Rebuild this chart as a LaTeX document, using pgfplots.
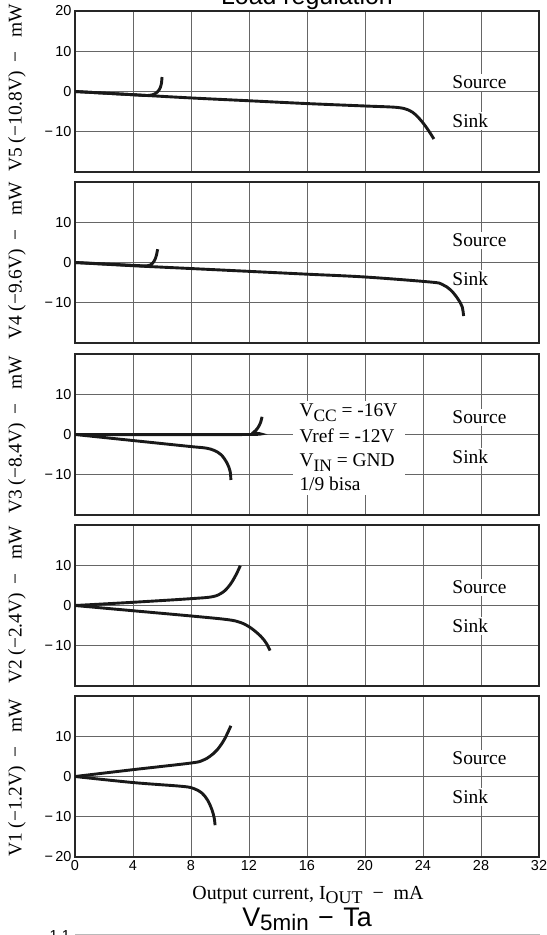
\documentclass[border=0pt]{standalone}
\usepackage{fontspec}
\setmainfont{Liberation Serif}
\newfontfamily\sansf{Liberation Sans}
\usepackage{pgfplots}
\pgfplotsset{compat=1.18}
\definecolor{gridc}{gray}{0.40}
\definecolor{curvec}{gray}{0.1}
\newcommand\lab{\fontsize{19.5}{22}\selectfont}
\newcommand\tk{\sansf\fontsize{14.5}{14.5}\selectfont}
\pgfplotsset{
  panel/.style={
    scale only axis, width=464bp, height=161bp, anchor=north west,
    xmin=0, xmax=32, ymin=-20, ymax=20,
    xtick={0,4,...,32}, ytick={-20,-10,0,10,20},
    grid=major, major grid style={gridc, line width=0.9bp},
    major tick length=0pt,
    axis line style={black!85, line width=1.5bp},
    xticklabels={},
    ticklabel style={font=\tk},
  },
  cv/.style={curvec, line width=2.9bp, smooth, tension=0.55, no marks},
}
\tikzset{
  src/.style={anchor=base west, fill=white, inner xsep=1bp, inner ysep=2bp, font=\fontsize{19.5}{22}\selectfont},
}
\begin{document}
\begin{tikzpicture}
\useasboundingbox (0bp,0bp) rectangle (547bp,-935bp);
% Panel 1: V5
\begin{axis}[panel, at={(75bp,-11bp)}, yticklabels={,−\,10,0,10,20}]
\addplot[cv] coordinates {(0,0)(4,-0.8)(8,-1.6)(12,-2.3)(16,-3.0)(20,-3.6)(22.2,-3.95)(23.0,-4.6)(23.5,-5.8)(24.0,-7.8)(24.4,-9.8)(24.75,-11.8)};
\addplot[cv] coordinates {(0,0)(4,-0.8)(5.0,-1.0)(5.5,-0.6)(5.8,0.4)(5.95,1.8)(6.0,3.6)};
\node[src] at (axis cs:25.95,0.7) {Source};
\node[src] at (axis cs:25.95,-8.9) {Sink};
\end{axis}
% Panel 2: V4
\begin{axis}[panel, at={(75bp,-182bp)}, yticklabels={,−\,10,0,10,}]
\addplot[cv] coordinates {(0,0)(4,-0.8)(8,-1.5)(12,-2.2)(16,-2.9)(20,-3.6)(24.5,-4.85)(25.3,-5.4)(25.9,-6.8)(26.4,-9)(26.7,-11)(26.8,-13.3)};
\addplot[cv] coordinates {(0,0)(4,-0.7)(4.8,-0.85)(5.2,-0.6)(5.45,0.3)(5.6,1.6)(5.7,3.3)};
\node[src] at (axis cs:25.95,3.96) {Source};
\node[src] at (axis cs:25.95,-5.8) {Sink};
\end{axis}
% Panel 3: V3
\begin{axis}[panel, at={(75bp,-354bp)}, yticklabels={,−\,10,0,10,}]
\addplot[cv] coordinates {(0,0)(11.9,0)(12.3,0.5)(12.6,1.6)(12.8,3)(12.9,4.4)};
\addplot[cv] coordinates {(0,0)(4,-1.5)(8,-3.0)(9.0,-3.35)(9.6,-3.95)(10.1,-5.1)(10.5,-7.2)(10.7,-9.2)(10.75,-11.3)};
\fill[white] (axis cs:15.03,8.4) rectangle (axis cs:22.76,-15);
\node[anchor=base west, inner sep=0, font=\lab] at (axis cs:15.47,4.37) {V\raisebox{-5bp}{\fontsize{17.5}{17}\selectfont CC} = -16V};
\node[anchor=base west, inner sep=0, font=\lab] at (axis cs:15.47,-1.98) {Vref = -12V};
\node[anchor=base west, inner sep=0, font=\lab] at (axis cs:15.47,-7.86) {V\raisebox{-5bp}{\fontsize{17.5}{17}\selectfont IN} = GND};
\node[anchor=base west, inner sep=0, font=\lab] at (axis cs:15.47,-13.82) {1/9 bisa};
\node[src] at (axis cs:25.95,2.7) {Source};
\node[src] at (axis cs:25.95,-7.2) {Sink};
\end{axis}
% Panel 4: V2
\begin{axis}[panel, at={(75bp,-525bp)}, yticklabels={,−\,10,0,10,}]
\addplot[cv] coordinates {(0,0)(4,0.8)(8,1.7)(9.5,2.2)(10.2,3.3)(10.7,5.2)(11.1,7.6)(11.4,9.9)};
\addplot[cv] coordinates {(0,0)(4,-1.3)(8,-2.6)(10.5,-3.5)(11.4,-4.2)(12.1,-5.5)(12.8,-7.6)(13.2,-9.4)(13.45,-11.2)};
\node[src] at (axis cs:25.95,2.9) {Source};
\node[src] at (axis cs:25.95,-6.8) {Sink};
\end{axis}
% Panel 5: V1
\begin{axis}[panel, at={(75bp,-696bp)}, yticklabels={−\,20,−\,10,0,10,}, xticklabels={0,4,8,12,16,20,24,28,32}]
\addplot[cv] coordinates {(0,0)(4,1.7)(8,3.35)(8.8,4.0)(9.3,5.0)(9.8,6.6)(10.3,9.2)(10.75,12.6)};
\addplot[cv] coordinates {(0,0)(4,-1.5)(7.4,-2.45)(8.2,-3.0)(8.75,-4.1)(9.15,-5.9)(9.45,-8.3)(9.6,-10.3)(9.66,-12.1)};
\node[src] at (axis cs:25.95,2.9) {Source};
\node[src] at (axis cs:25.95,-6.7) {Sink};
\end{axis}
% Y labels
\node[rotate=90, anchor=base, font=\lab] at (21.5bp,-88bp) {V5 (−10.8V)\hspace{0.45em}−\hspace{0.7em}mW};
\node[rotate=90, anchor=base, font=\lab] at (21.5bp,-261bp) {V4 (−9.6V)\hspace{0.45em}−\hspace{0.7em}mW};
\node[rotate=90, anchor=base, font=\lab] at (21.5bp,-435bp) {V3 (−8.4V)\hspace{0.45em}−\hspace{0.7em}mW};
\node[rotate=90, anchor=base, font=\lab] at (21.5bp,-605bp) {V2 (−2.4V)\hspace{0.45em}−\hspace{0.7em}mW};
\node[rotate=90, anchor=base, font=\lab] at (21.5bp,-778bp) {V1 (−1.2V)\hspace{0.45em}−\hspace{0.7em}mW};
% Titles
\node[anchor=base, inner sep=0, font=\sansf\fontsize{25}{25}\selectfont] at (307bp,-4bp) {Load regulation};
\node[anchor=base, inner sep=0, font=\fontsize{20}{22}\selectfont] at (308bp,-899bp) {Output current, I\raisebox{-4bp}{\fontsize{18}{17}\selectfont OUT}\hspace{0.5em}−\hspace{0.5em}mA};
\node[anchor=base, inner sep=0, font=\sansf\fontsize{27}{27}\selectfont] at (307bp,-926bp) {V\raisebox{-4bp}{\fontsize{22.5}{22}\selectfont 5min}\hspace{0.35em}−\hspace{0.35em}Ta};
\draw[gray!55, line width=1bp] (75bp,-934bp) -- (540bp,-934bp);
\node[anchor=north east, inner sep=0, font=\tk] at (70bp,-930.5bp) {1.1};
\end{tikzpicture}
\end{document}
